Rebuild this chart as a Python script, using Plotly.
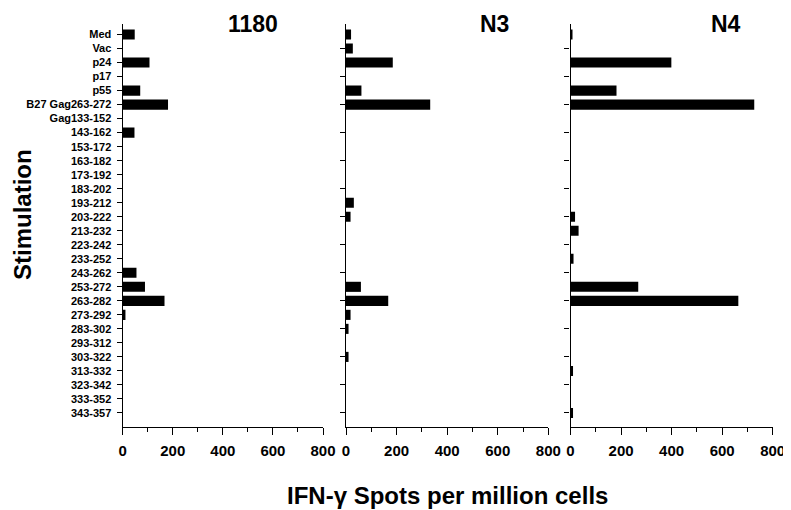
import plotly.graph_objects as go

categories = ["Med", "Vac", "p24", "p17", "p55", "B27 Gag263-272", "Gag133-152",
              "143-162", "153-172", "163-182", "173-192", "183-202", "193-212",
              "203-222", "213-232", "223-242", "233-252", "243-262", "253-272",
              "263-282", "273-292", "283-302", "293-312", "303-322", "313-332",
              "323-342", "333-352", "343-357"]

panel_names = ["1180", "N3", "N4"]

vals_1180 = [48, 0, 107, 0, 70, 181, 0, 47, 0, 0, 0, 0, 0, 0, 0, 0, 0,
             55, 89, 167, 11, 0, 0, 0, 0, 0, 0, 0]
vals_N3 = [20, 27, 185, 0, 61, 333, 0, 0, 0, 0, 0, 0, 31, 18, 0, 0, 0,
           0, 59, 167, 18, 10, 0, 10, 0, 0, 0, 0]
vals_N4 = [5, 0, 399, 0, 182, 727, 0, 0, 0, 0, 0, 0, 0, 18, 32, 0, 12,
           0, 268, 664, 0, 0, 0, 0, 10, 0, 0, 10]

x_tickvals = [0, 200, 400, 600, 800]

# page body has an 8px margin, so the figure is offset by 8px in the window
OFF = 8
W, H = 791 - OFF, 510 - OFF
FONT = "Liberation Sans, Arial, Helvetica, sans-serif"


def px(x):
    return (x - OFF) / W


def py(y):
    return 1 - (y - OFF) / H


series = [vals_1180, vals_N3, vals_N4]
domains = [[px(122.7), px(323.0)], [px(346.0), px(548.3)], [px(570.5), px(772.7)]]
ydom = [py(427.0), py(24.0)]
title_x = [253, 495, 726]

fig = go.Figure()
for i, vals in enumerate(series):
    sfx = "" if i == 0 else str(i + 1)
    fig.add_trace(go.Bar(
        x=vals, y=categories, orientation="h",
        marker=dict(color="black", line=dict(width=0)),
        width=0.72, xaxis="x" + sfx, yaxis="y" + sfx, showlegend=False,
    ))
    fig.layout["xaxis" + sfx] = dict(
        domain=domains[i], range=[0, 800], anchor="y" + sfx,
        tickmode="array", tickvals=x_tickvals,
        ticks="outside", ticklen=7, tickwidth=1.3, tickcolor="black",
        showline=True, linecolor="black", linewidth=1.3,
        showgrid=False, zeroline=False,
        minor=dict(tickmode="linear", tick0=0, dtick=100, ticks="outside",
                   ticklen=4, tickwidth=1.3, tickcolor="black", showgrid=False),
        tickfont=dict(family=FONT, size=15, color="black", weight="bold"),
        ticklabelstandoff=3,
        automargin=False, fixedrange=True,
    )
    fig.layout["yaxis" + sfx] = dict(
        domain=ydom, anchor="x" + sfx, type="category",
        categoryorder="array", categoryarray=categories,
        range=[28, -0.75], autorange=False,
        ticks="outside", ticklen=5, tickwidth=1.2, tickcolor="black",
        showline=True, linecolor="black", linewidth=1.3,
        showgrid=False, zeroline=False,
        showticklabels=(i == 0),
        tickfont=dict(family=FONT, size=11, color="black", weight="bold"),
        ticklabelstandoff=3,
        automargin=False, fixedrange=True,
    )
    fig.add_annotation(
        text=panel_names[i], x=px(title_x[i]), y=py(24.0),
        xref="paper", yref="paper", showarrow=False,
        xanchor="center", yanchor="middle",
        font=dict(family=FONT, size=23, color="black", weight="bold"),
    )

fig.add_annotation(
    text="Stimulation", x=px(22.0), y=py(215.0), xref="paper", yref="paper",
    showarrow=False, textangle=-90, xanchor="center", yanchor="middle",
    font=dict(family=FONT, size=24, color="black", weight="bold"),
)
fig.add_annotation(
    text="IFN-γ Spots per million cells", x=px(447.0), y=py(495.0),
    xref="paper", yref="paper", showarrow=False,
    xanchor="center", yanchor="middle",
    font=dict(family=FONT, size=24, color="black", weight="bold"),
)

fig.update_layout(
    width=W, height=H,
    margin=dict(l=0, r=0, t=0, b=0),
    paper_bgcolor="white", plot_bgcolor="white",
    bargap=0.28,
)

fig.write_html("out.html")
